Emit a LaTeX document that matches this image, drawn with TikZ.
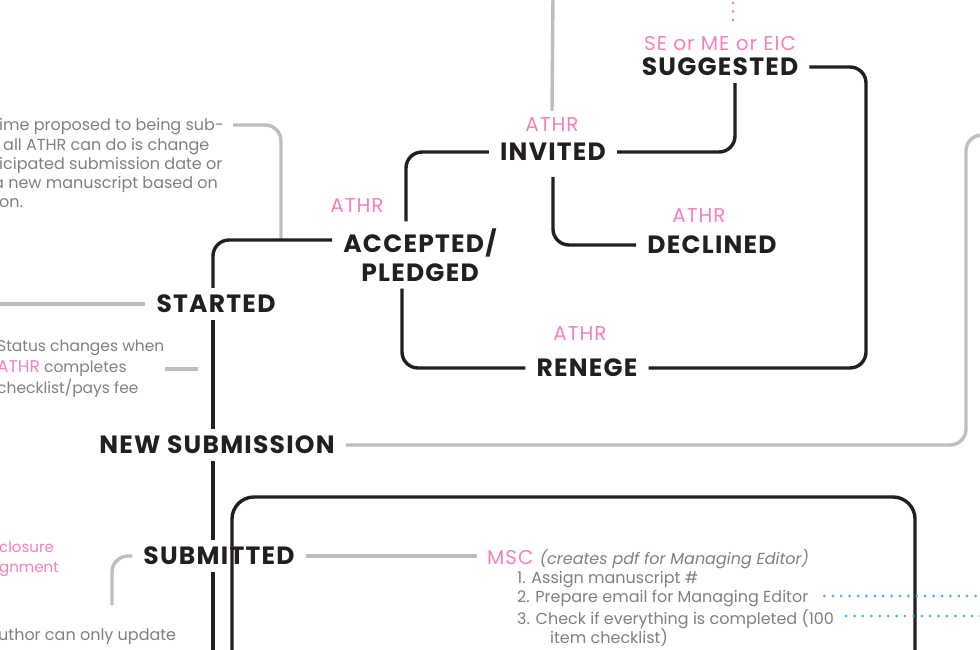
\documentclass[tikz,border=0pt]{standalone}
\usepackage{fontspec}
\setmainfont{Poppins}
\usetikzlibrary{positioning}

\definecolor{ink}{RGB}{35,31,32}
\definecolor{mute}{RGB}{128,128,128}
\definecolor{wire}{RGB}{190,190,190}
\definecolor{rose}{RGB}{244,128,188}
\definecolor{sky}{RGB}{64,182,230}

\tikzset{
  status/.style={font=\fontsize{25}{29}\selectfont\bfseries\addfontfeatures{LetterSpace=5},
    text=ink, inner xsep=11pt, inner ysep=7pt, align=center},
  actor/.style={font=\fontsize{20}{22}\selectfont\addfontfeatures{LetterSpace=5},
    text=rose, inner sep=4pt},
  note/.style={font=\fontsize{16}{19}\selectfont, text=mute, align=left, inner sep=0pt},
  item/.style={font=\fontsize{16}{19}\selectfont, text=mute, anchor=west, inner sep=0pt},
  flow/.style={draw=ink, line width=3.4pt, rounded corners=16pt},
  aside/.style={draw=wire, line width=3.4pt, rounded corners=16pt},
  dots/.style={line width=3pt, line cap=round, dash pattern=on 0pt off 8.4pt},
}

\begin{document}
\begin{tikzpicture}[x=1pt,y=-1pt]
  \useasboundingbox (0,0) rectangle (980,650);
  \clip (0,0) rectangle (980,650);

  % statuses
  \node[status] (suggested) at (720,67) {SUGGESTED};
  \node[status] (invited) at (553,152) {INVITED};
  \node[status] (declined) at (712,245) {DECLINED};
  \node[status] (accepted) at (420,255) {ACCEPTED/\\PLEDGED};
  \node[status] (renege) at (587,368) {RENEGE};
  \node[status] (started) at (216,304) {STARTED};
  \node[status] (newsub) at (217,445) {NEW SUBMISSION};
  \node[status] (submitted) at (219,556) {SUBMITTED};

  % who changes the status
  \node[actor] (byeditor) at (720,44) {SE or ME or EIC};
  \node[actor] (athrinv) at (552,125) {ATHR};
  \node[actor] (athracc) at (357,206) {ATHR};
  \node[actor] (athrdec) at (699,216) {ATHR};
  \node[actor] (athrren) at (580,334) {ATHR};

  % side notes
  \node[note, anchor=base west] (proposal1) at (-1,131) {ime proposed to being sub-};
  \node[note, anchor=base west] (proposal2) at (3,150) {all ATHR can do is change};
  \node[note, anchor=base west] (proposal3) at (-1,169) {icipated submission date or};
  \node[note, anchor=base west] (proposal4) at (-7,188) {a new manuscript based on};
  \node[note, anchor=base west] (proposal5) at (-1,207) {on.};
  \node[note, anchor=north west, font=\fontsize{15.5}{21}\selectfont] (checklist) at (-3,340)
    {Status changes when\\\textcolor{rose}{\fontsize{17}{21}\selectfont ATHR} completes\\checklist/pays fee};
  \node[note, anchor=north west, text=rose, font=\fontsize{15}{20}\selectfont] (forms) at (-1,541)
    {closure\\gnment};
  \node[note, anchor=north west] (update) at (-2,628) {uthor can only update};

  % manuscript check
  \node[actor, anchor=west, inner xsep=10pt] (msc) at (477,559)
    {MSC \textcolor{mute}{\fontsize{16}{19}\selectfont\addfontfeatures{LetterSpace=0}\itshape (creates pdf for Managing Editor)}};
  \node[item] (step1) at (517,580) {1. Assign manuscript \#};
  \node[item] (step2) at (517,599) {2. Prepare email for Managing Editor};
  \node[item] (step3) at (517,619) {3. Check if everything is completed (100};
  \node[item] (step3b) at (550,638) {item checklist)};

  \coordinate (spine) at (213,0);
  \coordinate (spineend) at (213,670);
  \coordinate (loopright) at (866,0);
  \coordinate (feedtop) at (553,-5);
  \coordinate (dottop) at (733,3);
  \coordinate (edgeL) at (-5,304);
  \coordinate (edgeR) at (995,135);
  \coordinate (notehook) at (233,125);
  \coordinate (notejoin) at (281,240);
  \coordinate (subdrop) at (112,605);

  % grey connectors
  \draw[aside] (feedtop) -- ([yshift=3pt]athrinv.north);
  \draw[aside] (notehook) -| (notejoin);
  \draw[aside] (edgeL) -- (started.west);
  \draw[aside, shorten >=15pt] (checklist.east) -- (checklist.east -| spine);
  \draw[aside] (newsub.east) -| (966,135) -- (edgeR);
  \draw[aside] (submitted.east) -- (submitted.east -| msc.west);
  \draw[aside] (submitted.west) -| (subdrop);
  \draw[rose, dots, shorten >=12pt] (dottop) -- (dottop |- byeditor.north);

  % status flow
  \draw[flow] (invited.east) -| ([xshift=15pt]suggested.south);
  \draw[flow] (suggested.east) -- (suggested.east -| loopright) |- (renege.east);
  \draw[flow] (renege.west) -| ([xshift=-18pt]accepted.south);
  \draw[flow] (invited.west) -| ([xshift=-14pt]accepted.north);
  \draw[flow, shorten <=9pt] (invited.south) |- (declined.west);
  \draw[flow] ([yshift=15pt]accepted.west) -| (started.north -| spine);
  \draw[flow] (started.south -| spine) -- (newsub.north -| spine);
  \draw[flow] (newsub.south -| spine) -- (submitted.north -| spine);
  \draw[flow] (submitted.south -| spine) -- (spineend);

  % submission box
  \draw[flow, rounded corners=22pt] (232,690) -- (232,497) -- (915,497) -- (915,690);

  \draw[sky, dots, shorten <=16pt] ([yshift=3pt]step2.east) -- ([yshift=3pt]step2.east -| edgeR);
  \draw[sky, dots, shorten <=12pt] ([yshift=3pt]step3.east) -- ([yshift=3pt]step3.east -| edgeR);
\end{tikzpicture}
\end{document}
